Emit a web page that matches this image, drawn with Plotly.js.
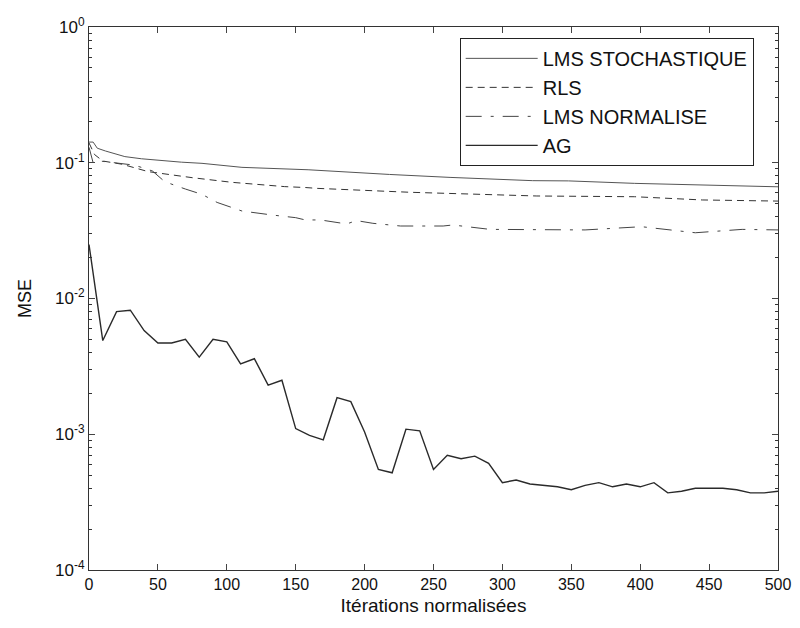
<!DOCTYPE html>
<html>
<head>
<meta charset="utf-8">
<script src="https://cdn.plot.ly/plotly-3.0.1.min.js"></script>
<style>html,body{margin:0;padding:0;background:#fff;}</style>
</head>
<body>
<div id="chart" style="width:800px;height:628px;"></div>
<script>
// --- Data ---
const seriesNames = ["LMS STOCHASTIQUE", "RLS", "LMS NORMALISE", "AG"];

const lmsStochIter = [0, 3, 6, 12, 26, 38, 67, 82, 111, 159, 218, 262, 322, 348, 396, 445, 500];
const lmsStochMse  = [0.142, 0.142, 0.128, 0.122, 0.111, 0.107, 0.101, 0.099, 0.0925, 0.0888, 0.082, 0.078, 0.0738, 0.0735, 0.0705, 0.0686, 0.0665];

const rlsIter = [0, 4, 10, 24, 43, 60, 75, 104, 142, 157, 165, 233, 281, 325, 396, 445, 500];
const rlsMse  = [0.14, 0.115, 0.103, 0.0975, 0.086, 0.081, 0.0776, 0.0717, 0.0667, 0.0657, 0.0648, 0.0606, 0.0589, 0.0569, 0.0562, 0.0532, 0.0522];

const lmsNormIter = [0, 3, 8, 20, 33, 46, 55, 70, 82, 93, 111, 133, 150, 157, 168, 187, 194, 206, 226, 257, 264, 291, 325, 360, 401, 440, 474, 500];
const lmsNormMse  = [0.13, 0.1, 0.103, 0.1, 0.096, 0.087, 0.0725, 0.064, 0.0585, 0.051, 0.0441, 0.0412, 0.0394, 0.0379, 0.0379, 0.0354, 0.0375, 0.0358, 0.0342, 0.0342, 0.0348, 0.0323, 0.032, 0.032, 0.0338, 0.0305, 0.0323, 0.032];

const agIter = [0, 10, 20, 30, 40, 50, 60, 70, 80, 90, 100, 110, 120, 130, 140, 150, 160, 170, 180, 190, 200, 210, 220, 230, 240, 250, 260, 270, 280, 290, 300, 310, 320, 330, 340, 350, 360, 370, 380, 390, 400, 410, 420, 430, 440, 450, 460, 470, 480, 490, 500];
const agMse  = [0.025, 0.0049, 0.0080, 0.0082, 0.0058, 0.0047, 0.0047, 0.0050, 0.0037, 0.0050, 0.0048, 0.0033, 0.0036, 0.0023, 0.0025, 0.0011, 0.00098, 0.00091, 0.00186, 0.00174, 0.00104, 0.00055, 0.00052, 0.00109, 0.00106, 0.00055, 0.00070, 0.00066, 0.00069, 0.00061, 0.00044, 0.00046, 0.00043, 0.00042, 0.00041, 0.00039, 0.00042, 0.00044, 0.00041, 0.00043, 0.00041, 0.00044, 0.00037, 0.00038, 0.00040, 0.00040, 0.00040, 0.00039, 0.00037, 0.00037, 0.00038];

const xTickVals = [0, 50, 100, 150, 200, 250, 300, 350, 400, 450, 500];
const yTickVals = [1e-4, 1e-3, 1e-2, 1e-1, 1];
const yTickText = ["10<sup>-4</sup>", "10<sup>-3</sup>", "10<sup>-2</sup>", "10<sup>-1</sup>", "10<sup>0</sup>"];

// minor tick positions for the log axis (2..9 in every decade)
const yMinor = [];
for (let e = -4; e < 0; e++) for (let m = 2; m <= 9; m++) yMinor.push(m * Math.pow(10, e));

const traces = [
  {x: lmsStochIter, y: lmsStochMse, name: seriesNames[0], mode: "lines",
   line: {color: "#555555", width: 1, dash: "solid"}},
  {x: rlsIter, y: rlsMse, name: seriesNames[1], mode: "lines",
   line: {color: "#333333", width: 1, dash: "7px,5px"}},
  {x: lmsNormIter, y: lmsNormMse, name: seriesNames[2], mode: "lines",
   line: {color: "#444444", width: 1, dash: "16px,9px,3px,9px"}},
  {x: agIter, y: agMse, name: seriesNames[3], mode: "lines",
   line: {color: "#2a2a2a", width: 1.4}}
];

const baseFamily = "Liberation Sans, Arial, sans-serif";
const axisFont = {family: baseFamily, size: 16, color: "#111"};
const titleFont = {family: baseFamily, size: 19, color: "#111"};

const layout = {
  width: 800, height: 628,
  margin: {l: 89, r: 22, t: 27, b: 58},
  paper_bgcolor: "#fff", plot_bgcolor: "#fff",
  font: axisFont,
  showlegend: true,
  legend: {
    x: 0.538, y: 0.98, xanchor: "left", yanchor: "top",
    bgcolor: "#fff", bordercolor: "#222", borderwidth: 1,
    font: {family: baseFamily, size: 20, color: "#111"},
    itemwidth: 72, tracegroupgap: 0
  },
  xaxis: {
    range: [0, 500], tickvals: xTickVals, ticks: "inside", ticklen: 6,
    showline: true, linecolor: "#333", linewidth: 1, mirror: "ticks",
    showgrid: false, zeroline: false, tickfont: axisFont,
    title: {text: "Itérations normalisées", font: titleFont, standoff: 6}
  },
  yaxis: {
    type: "log", range: [-4, 0], tickvals: yTickVals, ticktext: yTickText,
    ticks: "inside", ticklen: 6,
    minor: {tickvals: yMinor, ticks: "inside", ticklen: 3, tickcolor: "#333"},
    showline: true, linecolor: "#333", linewidth: 1, mirror: "ticks",
    showgrid: false, zeroline: false, tickfont: {family: baseFamily, size: 17, color: "#111"},
    title: {text: "MSE", font: {family: baseFamily, size: 18, color: "#111"}, standoff: 18}
  }
};

Plotly.newPlot("chart", traces, layout, {displayModeBar: false, staticPlot: true});
</script>
</body>
</html>
